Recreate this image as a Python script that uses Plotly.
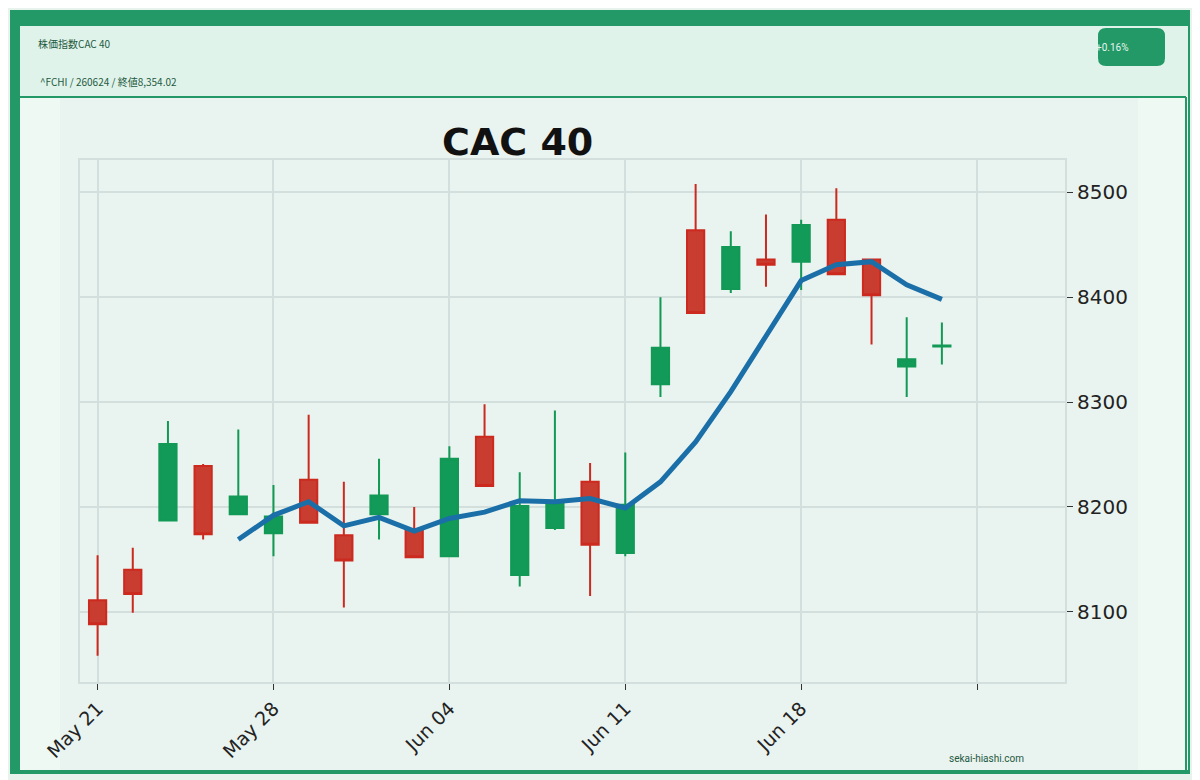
import plotly.graph_objects as go

dates = ["May 21", "May 22", "May 23", "May 24", "May 27", "May 28", "May 29", "May 30", "May 31",
         "Jun 03", "Jun 04", "Jun 05", "Jun 06", "Jun 07", "Jun 10", "Jun 11", "Jun 12", "Jun 13",
         "Jun 14", "Jun 17", "Jun 18", "Jun 19", "Jun 20", "Jun 21", "Jun 24"]
opens = [8111, 8140, 8187, 8239, 8193, 8175, 8226, 8173, 8193, 8179, 8153, 8267, 8135, 8180, 8224,
         8156, 8317, 8464, 8408, 8436, 8434, 8474, 8436, 8334, 8353]
highs = [8154, 8161, 8282, 8241, 8274, 8221, 8288, 8224, 8246, 8200, 8258, 8298, 8233, 8292, 8242,
         8252, 8400, 8508, 8463, 8479, 8474, 8504, 8436, 8381, 8376]
lows = [8058, 8099, 8187, 8169, 8193, 8153, 8185, 8104, 8169, 8152, 8153, 8220, 8124, 8178, 8115,
        8153, 8305, 8385, 8404, 8410, 8407, 8422, 8355, 8305, 8336]
closes = [8088, 8117, 8260, 8174, 8210, 8191, 8185, 8149, 8211, 8152, 8246, 8220, 8201, 8204, 8164,
          8202, 8352, 8385, 8448, 8431, 8469, 8422, 8402, 8341, 8354.02]
ma5 = [None] * 4 + [8169, 8192, 8205, 8182, 8190, 8177, 8189, 8195, 8206, 8205, 8208, 8199, 8224,
                    8262, 8310, 8363, 8416, 8431, 8434, 8412, 8398]
tick_idx = [0, 5, 10, 15, 20, 25]
tick_text = ["May 21", "May 28", "Jun 04", "Jun 11", "Jun 18", ""]

x = list(range(len(dates)))

fig = go.Figure()
fig.add_trace(go.Candlestick(
    x=x, open=opens, high=highs, low=lows, close=closes,
    increasing=dict(line=dict(color="#119955", width=2), fillcolor="#129a58"),
    decreasing=dict(line=dict(color="#cc2a1f", width=2), fillcolor="#c93d30"),
    whiskerwidth=0, showlegend=False, hoverinfo="skip"))
fig.add_trace(go.Scatter(x=x, y=ma5, mode="lines", line=dict(color="#1a6fa8", width=5),
                         showlegend=False))

# pixel -> paper helpers (plot area on screen: x 80..1065, y 160..682)
def px(v):
    return (v - 80) / 985

def py(v):
    return (682 - v) / 522

def rect(x0, y0, x1, y1, fill):
    return dict(type="rect", xref="paper", yref="paper", x0=px(x0), x1=px(x1), y0=py(y1), y1=py(y0),
                fillcolor=fill, line=dict(color=fill, width=0), layer="below")

# rounded pill for the change badge
bx0, bx1, by0, by1, r = px(1098), px(1165), py(66), py(28), 8
rx, ry = r / 985, r / 522
pill = (f"M {bx0+rx},{by1} L {bx1-rx},{by1} Q {bx1},{by1} {bx1},{by1-ry} L {bx1},{by0+ry} "
        f"Q {bx1},{by0} {bx1-rx},{by0} L {bx0+rx},{by0} Q {bx0},{by0} {bx0},{by0+ry} "
        f"L {bx0},{by1-ry} Q {bx0},{by1} {bx0+rx},{by1} Z")

shapes = [
    rect(10, 10, 1190, 774, "#229966"),
    rect(20, 26, 1188, 770, "#eef9f3"),
    rect(20, 26, 1188, 96, "#dff3ea"),
    rect(60, 98, 1138, 770, "#e9f3ef"),
    dict(type="line", xref="paper", yref="paper", x0=px(20), x1=px(1186), y0=py(97), y1=py(97),
         line=dict(color="#229966", width=2)),
    dict(type="line", xref="paper", yref="paper", x0=px(1186), x1=px(1186), y0=py(97), y1=py(770),
         line=dict(color="#229966", width=2)),
    dict(type="path", xref="paper", yref="paper", path=pill, fillcolor="#229966",
         line=dict(color="#229966", width=0)),
]

fig.update_layout(
    width=1200, height=780,
    margin=dict(l=72, r=143, t=152, b=106),
    paper_bgcolor="#e8f3ee", plot_bgcolor="#e9f3ef",
    shapes=shapes,
    font=dict(family="DejaVu Sans"),
    xaxis=dict(range=[-0.5, 27.5], tickvals=tick_idx, ticktext=tick_text, tickangle=-45,
               showgrid=True, gridcolor="#d3dfdc", gridwidth=2, ticks="outside", ticklen=6,
               tickcolor="#333", tickfont=dict(size=19, color="#222"), zeroline=False,
               showline=True, linecolor="#d3dfdc", linewidth=2, mirror=True,
               rangeslider=dict(visible=False)),
    yaxis=dict(range=[8033, 8531], side="right", tickvals=[8100, 8200, 8300, 8400, 8500],
               showgrid=True, gridcolor="#d3dfdc", gridwidth=2, ticks="outside", ticklen=6,
               tickcolor="#333", tickfont=dict(size=20, color="#222"), zeroline=False,
               showline=True, linecolor="#d3dfdc", linewidth=2, mirror=True),
    annotations=[
        dict(text="<b>CAC 40</b>", xref="paper", yref="paper", x=px(517), y=py(118),
             showarrow=False, font=dict(size=38, color="#111")),
        dict(text="株価指数CAC 40", xref="paper", yref="paper", x=px(36), y=py(34),
             xanchor="left", showarrow=False, font=dict(size=10, color="#1f5a3f", family="Noto Sans CJK JP")),
        dict(text="^FCHI / 260624 / 終値8,354.02", xref="paper", yref="paper", x=px(38), y=py(72),
             xanchor="left", showarrow=False, font=dict(size=10, color="#1f5a3f", family="Noto Sans CJK JP")),
        dict(text="+0.16%", xref="paper", yref="paper", x=px(1131), y=py(40),
             showarrow=False, font=dict(size=10, color="#e8f6ee", family="Roboto")),
        dict(text="sekai-hiashi.com", xref="paper", yref="paper", x=px(1026), y=py(766),
             showarrow=False, font=dict(size=10, color="#1f5a3f", family="Roboto")),
    ],
)

fig.write_html("out.html")
